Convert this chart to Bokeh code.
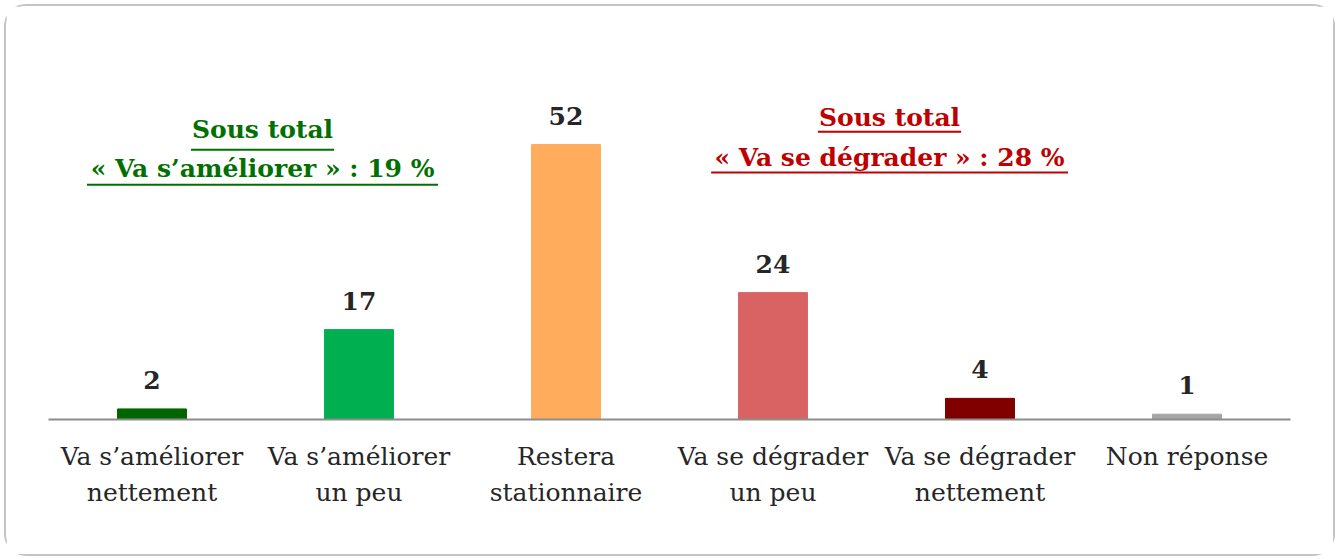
from bokeh.plotting import figure
from bokeh.models import Range1d, FixedTicker, ColumnDataSource
from bokeh.core.properties import value
from bokeh.embed import file_html
from bokeh.resources import INLINE

categories = ["Va s\u2019améliorer\nnettement", "Va s\u2019améliorer\nun peu", "Restera\nstationnaire",
              "Va se dégrader\nun peu", "Va se dégrader\nnettement", "Non réponse"]
values = [2, 17, 52, 24, 4, 1]
colors = ["#006600", "#00B050", "#FFAC5C", "#D96363", "#800000", "#A5A5A5"]
green_lines = ["Sous total", "« Va s\u2019améliorer » : 19 %"]
red_lines = ["Sous total", "« Va se dégrader » : 28 %"]

FONT = "DejaVu Serif"
xs = [i + 0.5 for i in range(len(categories))]
src = ColumnDataSource(dict(x=xs, top=values, color=colors, label=[str(v) for v in values]))

p = figure(width=1327, height=548, frame_width=1242, frame_height=386,
           x_range=Range1d(0, 6), y_range=Range1d(0, 73),
           output_backend="svg", toolbar_location=None, y_axis_location=None,
           min_border_left=42, min_border_right=43, min_border_top=27, min_border_bottom=135)
p.margin = (4, 0, 0, 4)
p.styles = {"border": "2px solid #c4c4c4", "border-radius": "22px", "box-sizing": "border-box"}
p.outline_line_color = None
p.grid.visible = False

p.vbar(x="x", top="top", width=0.333, bottom=0, color="color", source=src)
p.text(x="x", y="top", text="label", source=src, y_offset=-20,
       text_align="center", text_baseline="bottom", text_color="#262626",
       text_font=value(FONT), text_font_style="bold", text_font_size="25px")

ax = p.xaxis[0]
ax.ticker = FixedTicker(ticks=xs)
ax.major_label_overrides = {x: c for x, c in zip(xs, categories)}
ax.axis_line_color = "#8c8c8c"
ax.axis_line_width = 2
ax.major_tick_line_color = None
ax.minor_tick_line_color = None
ax.major_label_standoff = 16
ax.major_label_text_font = FONT
ax.major_label_text_font_size = "25px"
ax.major_label_text_color = "#262626"
ax.major_label_text_line_height = 1.25

# annotations
def block(lines, cx, ys, uys, halfw, color):
    p.text(x=[cx] * len(lines), y=ys, text=lines, text_align="center", text_baseline="middle",
           text_color=color, text_font=value(FONT), text_font_style="bold", text_font_size="25px")
    p.segment(x0=[cx - h for h in halfw], x1=[cx + h for h in halfw], y0=uys, y1=uys,
              line_color=color, line_width=2)

block(green_lines, 1.034, [54.8, 47.5], [51.0, 44.4], [0.346, 0.848], "#007000")
block(red_lines, 4.063, [57.1, 49.5], [54.4, 46.7], [0.346, 0.862], "#C00000")

open("out.html", "w").write(file_html(p, INLINE))
